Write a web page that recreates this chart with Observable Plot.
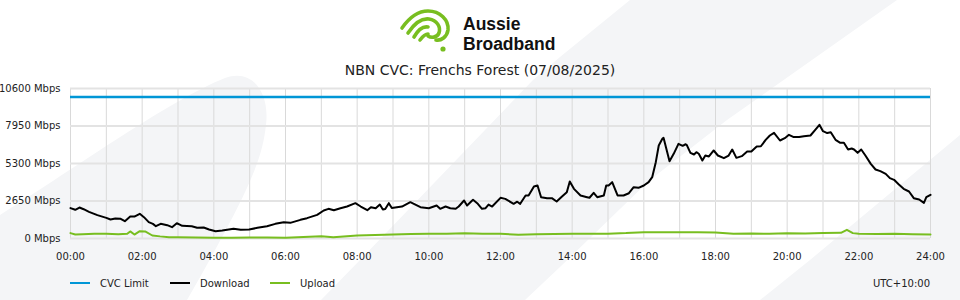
<!DOCTYPE html>
<html><head><meta charset="utf-8">
<script src="https://cdn.jsdelivr.net/npm/d3@7"></script>
<script src="https://cdn.jsdelivr.net/npm/@observablehq/plot@0.6"></script>
<style>
body{margin:0;background:#fff;font-family:"DejaVu Sans",sans-serif;}
#wrap{position:relative;width:960px;height:300px;overflow:hidden;background:#fff;}
#bg{position:absolute;left:0;top:0;}
#logo{position:absolute;left:0;top:0;}
#title{position:absolute;top:62px;left:0;width:960px;text-align:center;font-size:14px;color:#222;line-height:17px;}
#chart{position:absolute;left:0;top:80px;}
#legend{position:absolute;left:0;top:276px;width:960px;height:16px;font-size:10px;color:#222;}
.item{position:absolute;top:0;line-height:16px;white-space:nowrap;}
.sw{display:inline-block;width:20px;height:2px;vertical-align:middle;margin-right:10px;position:relative;top:-1px;}
#tz{position:absolute;right:30px;top:0;line-height:16px;}
</style></head>
<body>
<div id="wrap">
<svg id="bg" width="960" height="300">
  <path d="M0,215 C80,165 170,100 225,78 C252,68 270,92 266,125 C262,160 250,190 187,300 L0,300 Z" fill="#f4f5f7"/>
  <path d="M630,0 L897,0 L727,120 L650,180 L560,267 L525,300 L321,300 L360,260 L533,80 L560,57 Z" fill="#f4f5f7"/>
  <path d="M960,135 L960,300 L760,300 L810,260 Z" fill="#f4f5f7"/>
</svg>
<svg id="logo" width="960" height="60">
  <g fill="none" stroke="#78be20" stroke-width="3.6" stroke-linecap="round">
    <path d="M402,28 C409,18 418,11 428,11 C440,11 449,20 448,30 C447,37 441,41 436,40"/>
    <path d="M408,33 C414,24 421,18 429,19 C437,20 441,27 439,33 C437,38 431,38 428,36"/>
    <path d="M414,37 C418,30 423,26 428,27"/>
    <path d="M420,40 C423,36 425,34 428,34"/>
  </g>
  <circle cx="443" cy="49" r="2.6" fill="#78be20"/>
  <text font-family="'Liberation Sans', Arial, sans-serif" font-weight="700" font-size="17.5" fill="#111"><tspan x="463" y="30.2">Aussie</tspan><tspan x="463" y="50">Broadband</tspan></text>
</svg>
<div id="title"></div>
<div id="chart"></div>
<div id="legend"></div>
</div>
<script>
// ---- data ----
const title = "NBN CVC: Frenchs Forest (07/08/2025)";
const seriesNames = ["CVC Limit", "Download", "Upload"];
const seriesColors = ["#0096d6", "#000000", "#78be20"];
const timezoneLabel = "UTC+10:00";
const cvcLimit = 10000;
const yTicks = [0, 2650, 5300, 7950, 10600];
const xTickLabels = ["00:00","02:00","04:00","06:00","08:00","10:00","12:00","14:00","16:00","18:00","20:00","22:00","24:00"];

const dlTimes = ["00:00","00:08","00:15","00:22","00:31","00:45","01:00","01:07","01:15","01:24","01:31","01:40","01:47","01:56","02:03","02:11","02:18","02:23","02:31","02:42","02:50","02:58","03:07","03:23","03:32","03:43","03:52","04:03","04:14","04:25","04:33","04:45","04:59","05:13","05:29","05:43","05:57","06:08","06:25","06:36","06:53","07:04","07:12","07:21","07:32","07:43","07:57","08:06","08:17","08:23","08:31","08:38","08:43","08:47","08:53","08:58","09:15","09:29","09:46","10:00","10:13","10:19","10:28","10:36","10:45","10:50","10:59","11:04","11:14","11:21","11:29","11:35","11:40","11:46","12:00","12:08","12:22","12:28","12:33","12:42","12:47","12:56","13:02","13:08","13:18","13:26","13:34","13:43","13:51","13:56","14:03","14:14","14:25","14:29","14:36","14:42","14:53","14:57","15:01","15:07","15:16","15:26","15:35","15:43","15:51","16:00","16:08","16:14","16:20","16:25","16:31","16:33","16:43","16:50","16:58","17:05","17:10","17:12","17:18","17:24","17:28","17:32","17:38","17:43","17:49","17:57","18:04","18:14","18:22","18:28","18:35","18:44","18:53","19:00","19:09","19:16","19:24","19:31","19:38","19:48","19:56","20:03","20:11","20:20","20:28","20:39","20:47","20:54","21:00","21:07","21:13","21:21","21:29","21:35","21:42","21:48","21:52","21:58","22:04","22:11","22:20","22:28","22:36","22:45","22:52","22:59","23:07","23:15","23:24","23:32","23:41","23:49","23:53","24:00"];
const dlMbps = [2150,2030,2190,2070,1885,1650,1460,1340,1410,1390,1225,1555,1550,1744,1508,1154,1036,870,1036,942,800,1083,895,870,754,777,636,518,565,636,683,612,636,754,870,1036,1154,1107,1319,1437,1673,1980,2097,2000,2140,2260,2497,2260,2000,2210,2140,2400,2050,2090,2497,2160,2260,2567,2210,2140,2330,2097,2260,2140,2097,2260,2686,2330,2733,2497,2097,2140,2400,2260,2874,2800,2450,2600,2450,3040,3040,3675,3745,2920,2850,2850,2615,2970,3270,4028,3510,3040,2920,2880,3228,2920,3040,3745,3745,3980,3040,3040,3200,3627,3580,3745,3980,4334,5394,6572,7044,7115,5465,5984,6690,6548,6660,6600,6053,5936,6100,5990,5512,5865,5795,6219,5865,5677,5865,6290,5700,5818,6148,6148,6502,6520,6972,7280,7468,6925,7090,7327,7170,7170,7230,7280,7680,8033,7585,7450,7510,6972,6760,6760,6290,6360,6290,6053,6290,5865,5276,4876,4758,4570,4264,4146,3816,3510,3322,2850,2757,2520,2920,3086];

const ulTimes = ["00:00","00:08","00:20","00:40","01:00","01:20","01:35","01:40","01:47","01:56","02:05","02:17","02:30","02:45","03:00","03:30","04:00","04:30","05:00","05:30","06:00","06:30","07:00","07:20","08:00","08:30","09:00","09:30","10:00","10:30","11:00","11:30","12:00","12:30","13:00","13:30","14:00","14:30","15:00","15:30","16:00","16:30","17:00","17:30","18:00","18:30","19:00","19:30","20:00","20:30","21:00","21:30","21:40","21:50","22:00","22:30","23:00","23:30","24:00"];
const ulMbps = [380,280,300,330,330,300,330,500,280,520,500,212,150,94,80,70,60,50,70,70,60,100,160,80,212,250,280,310,330,330,376,330,330,260,300,320,330,330,340,380,448,440,448,440,430,330,350,340,370,360,380,400,613,380,330,310,330,300,283];

// ---- build ----
const parseT = s => { const [h, m] = s.split(":").map(Number); return h + m / 60; };
const dl = dlTimes.map((t, i) => ({t: parseT(t), v: dlMbps[i]}));
const ul = ulTimes.map((t, i) => ({t: parseT(t), v: ulMbps[i]}));
const xTicks = xTickLabels.map(parseT);
const hourGrid = d3.range(0, 25);

const chart = Plot.plot({
  width: 960, height: 190,
  marginTop: 8, marginBottom: 32, marginLeft: 70, marginRight: 30,
  style: {background: "transparent", fontFamily: "DejaVu Sans, sans-serif", fontSize: "10px", color: "#222", overflow: "visible"},
  x: {type: "linear", domain: [0, 24], ticks: xTicks, tickFormat: d => xTickLabels[xTicks.indexOf(d)], tickSize: 0, tickPadding: 14, label: null},
  y: {domain: [0, 10600], ticks: yTicks, tickFormat: d => `${d} Mbps`, tickSize: 0, tickPadding: 10, label: null},
  marks: [
    Plot.ruleX(hourGrid, {stroke: "#d9d9d9", strokeWidth: 1}),
    Plot.ruleY(yTicks, {stroke: "#e3e3e3", strokeWidth: 2}),
    Plot.ruleY([cvcLimit], {stroke: seriesColors[0], strokeWidth: 2.5}),
    Plot.line(ul, {x: "t", y: "v", stroke: seriesColors[2], strokeWidth: 2}),
    Plot.line(dl, {x: "t", y: "v", stroke: seriesColors[1], strokeWidth: 2})
  ]
});
document.getElementById("chart").appendChild(chart);
document.getElementById("title").textContent = title;

const legend = document.getElementById("legend");
seriesNames.forEach((name, i) => {
  const it = document.createElement("div");
  it.className = "item";
  it.style.left = (70 + i * 100) + "px";
  it.innerHTML = `<span class="sw" style="background:${seriesColors[i]}"></span>${name}`;
  legend.appendChild(it);
});
const tz = document.createElement("div");
tz.id = "tz"; tz.textContent = timezoneLabel;
legend.appendChild(tz);
</script>
</body></html>
